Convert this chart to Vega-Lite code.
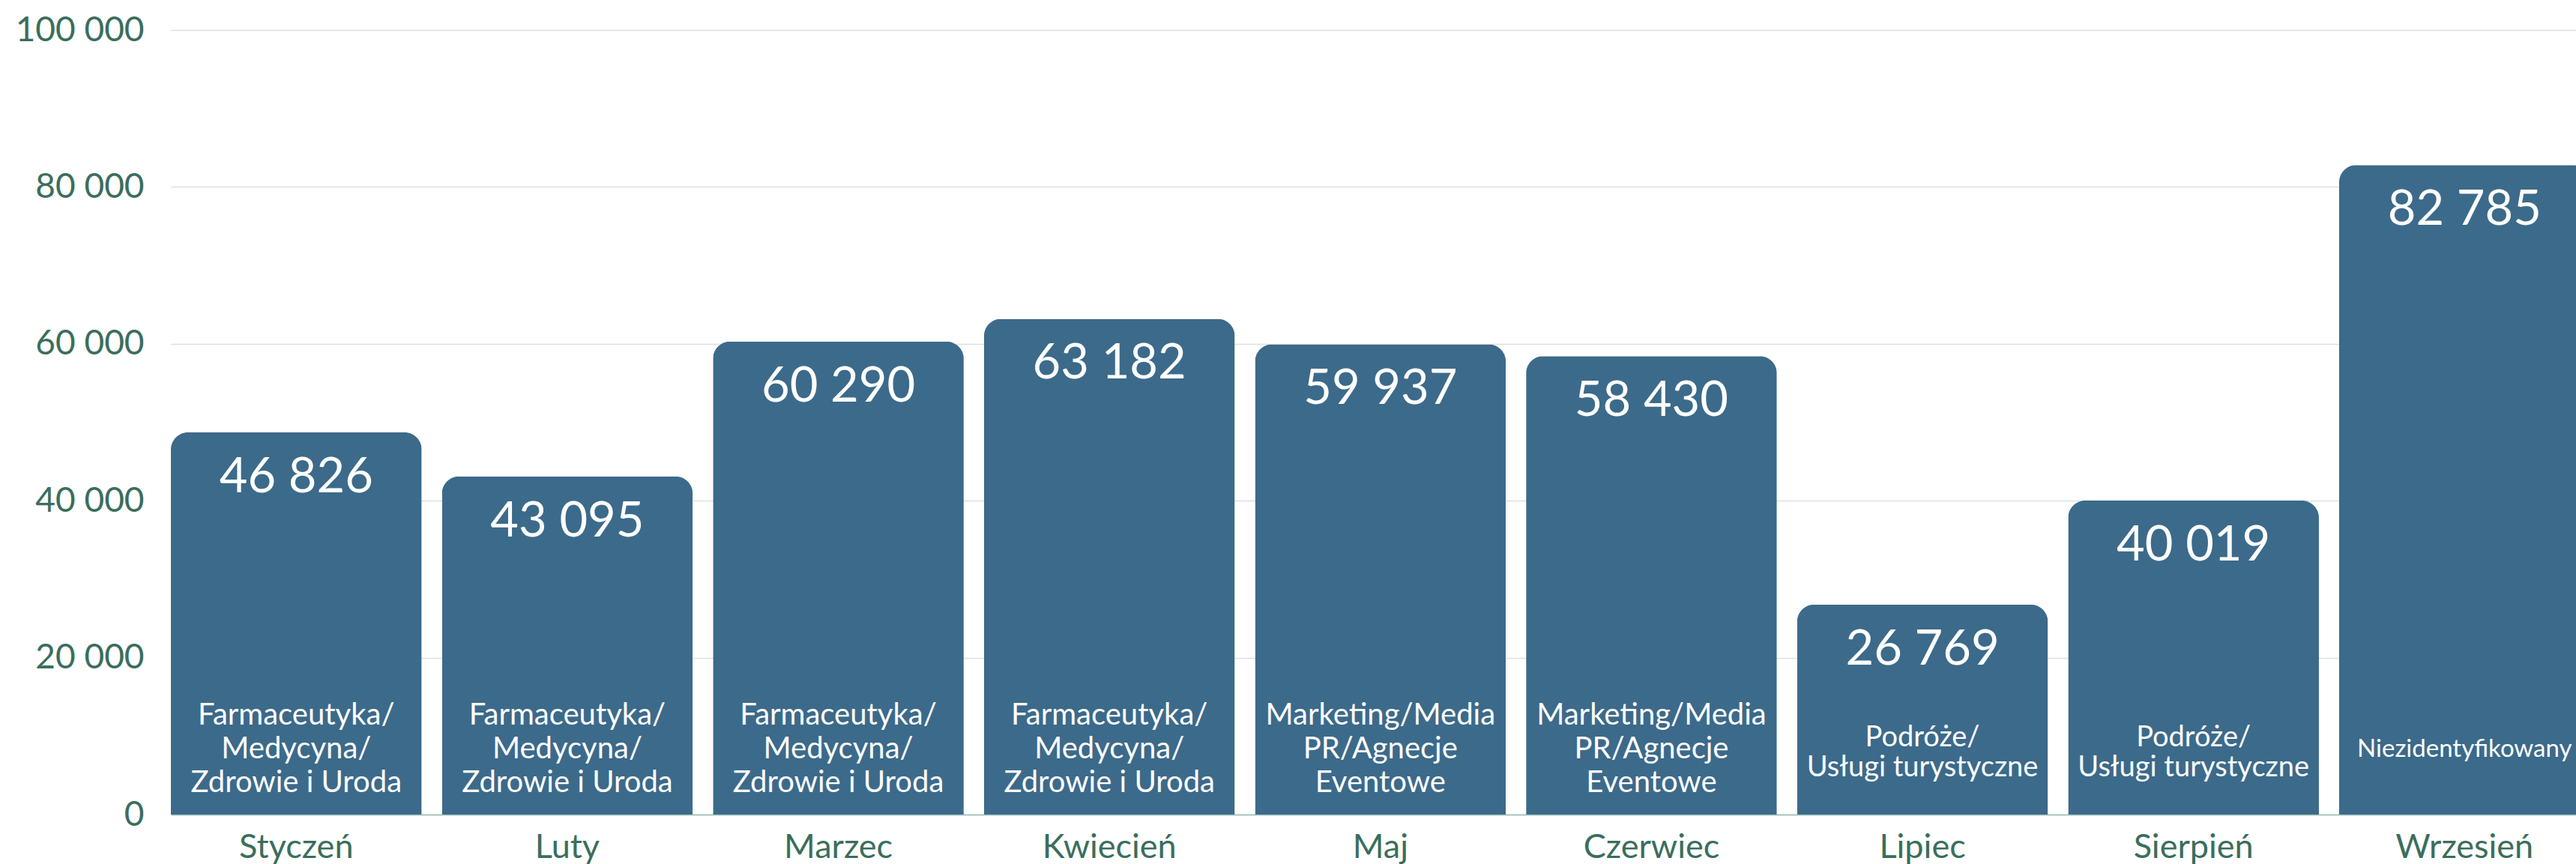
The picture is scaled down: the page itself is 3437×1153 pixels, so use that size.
{
  "$schema": "https://vega.github.io/schema/vega-lite/v6.json",
  "autosize": {"type": "none"},
  "padding": {"left": 228, "top": 40, "right": 0, "bottom": 66},
  "width": 3209,
  "height": 1047,
  "background": "#ffffff",
  "config": {
    "view": {"stroke": null},
    "font": "Lato",
    "text": {"color": "#ffffff", "font": "Lato", "baseline": "middle", "align": "center"},
    "locale": {"number": {"decimal": ",", "thousands": " ", "grouping": [3], "currency": ["", " zł"]}}
  },
  "data": {
    "values": [
      {"miesiac": "Styczeń", "wartosc": 48700, "etykieta": "46 826", "linia1": "Farmaceutyka/", "linia2": "Medycyna/", "linia3": "Zdrowie i Uroda"},
      {"miesiac": "Luty", "wartosc": 43095, "etykieta": "43 095", "linia1": "Farmaceutyka/", "linia2": "Medycyna/", "linia3": "Zdrowie i Uroda"},
      {"miesiac": "Marzec", "wartosc": 60290, "etykieta": "60 290", "linia1": "Farmaceutyka/", "linia2": "Medycyna/", "linia3": "Zdrowie i Uroda"},
      {"miesiac": "Kwiecień", "wartosc": 63182, "etykieta": "63 182", "linia1": "Farmaceutyka/", "linia2": "Medycyna/", "linia3": "Zdrowie i Uroda"},
      {"miesiac": "Maj", "wartosc": 59937, "etykieta": "59 937", "linia1": "Marketing/Media", "linia2": "PR/Agnecje", "linia3": "Eventowe"},
      {"miesiac": "Czerwiec", "wartosc": 58430, "etykieta": "58 430", "linia1": "Marketing/Media", "linia2": "PR/Agnecje", "linia3": "Eventowe"},
      {"miesiac": "Lipiec", "wartosc": 26769, "etykieta": "26 769", "linia1": "Podróże/", "linia2": "Usługi turystyczne", "linia3": ""},
      {"miesiac": "Sierpień", "wartosc": 40019, "etykieta": "40 019", "linia1": "Podróże/", "linia2": "Usługi turystyczne", "linia3": ""},
      {"miesiac": "Wrzesień", "wartosc": 82785, "etykieta": "82 785", "linia1": "Niezidentyfikowany", "linia2": "", "linia3": ""}
    ]
  },
  "encoding": {
    "x": {
      "field": "miesiac",
      "type": "nominal",
      "sort": null,
      "title": null,
      "scale": {"range": [0, 3227.6], "paddingInner": 0.0747, "paddingOuter": 0},
      "axis": {
        "labelAngle": 0,
        "labelFont": "Lato",
        "labelFontSize": 45,
        "labelColor": "#3b6e5c",
        "labelPadding": 21,
        "labelLimit": 600,
        "ticks": false,
        "tickSize": 0,
        "domain": true,
        "domainColor": "#aac5be",
        "domainWidth": 2,
        "grid": false
      }
    }
  },
  "layer": [
    {
      "mark": {"type": "bar", "color": "#3c6a8a", "cornerRadiusTopLeft": 23, "cornerRadiusTopRight": 23},
      "encoding": {
        "y": {
          "field": "wartosc",
          "type": "quantitative",
          "title": null,
          "scale": {"domain": [0, 100000], "nice": false},
          "axis": {
            "values": [0, 20000, 40000, 60000, 80000, 100000],
            "format": ",d",
            "labelFont": "Lato",
            "labelFontSize": 46,
            "labelColor": "#3b6e5c",
            "labelPadding": 36,
            "labelLimit": 400,
            "ticks": false,
            "tickSize": 0,
            "domain": false,
            "grid": true,
            "gridColor": "#dae2e0",
            "gridWidth": 1.5
          }
        }
      }
    },
    {
      "mark": {"type": "text", "fontSize": 65, "dy": 60},
      "encoding": {
        "y": {"field": "wartosc", "type": "quantitative"},
        "text": {"field": "etykieta", "type": "nominal"}
      }
    },
    {
      "transform": [{"filter": {"field": "miesiac", "oneOf": ["Styczeń", "Luty", "Marzec", "Kwiecień", "Maj", "Czerwiec"]}}],
      "layer": [
        {
          "mark": {"type": "text", "fontSize": 40, "dy": -132},
          "encoding": {"y": {"datum": 0, "type": "quantitative"}, "text": {"field": "linia1", "type": "nominal"}}
        },
        {
          "mark": {"type": "text", "fontSize": 40, "dy": -87},
          "encoding": {"y": {"datum": 0, "type": "quantitative"}, "text": {"field": "linia2", "type": "nominal"}}
        },
        {
          "mark": {"type": "text", "fontSize": 40, "dy": -42},
          "encoding": {"y": {"datum": 0, "type": "quantitative"}, "text": {"field": "linia3", "type": "nominal"}}
        }
      ]
    },
    {
      "transform": [{"filter": {"field": "miesiac", "oneOf": ["Lipiec", "Sierpień"]}}],
      "layer": [
        {
          "mark": {"type": "text", "fontSize": 38, "dy": -102},
          "encoding": {"y": {"datum": 0, "type": "quantitative"}, "text": {"field": "linia1", "type": "nominal"}}
        },
        {
          "mark": {"type": "text", "fontSize": 38, "dy": -62},
          "encoding": {"y": {"datum": 0, "type": "quantitative"}, "text": {"field": "linia2", "type": "nominal"}}
        }
      ]
    },
    {
      "transform": [{"filter": {"field": "miesiac", "equal": "Wrzesień"}}],
      "mark": {"type": "text", "fontSize": 33, "dy": -87},
      "encoding": {"y": {"datum": 0, "type": "quantitative"}, "text": {"field": "linia1", "type": "nominal"}}
    }
  ]
}
